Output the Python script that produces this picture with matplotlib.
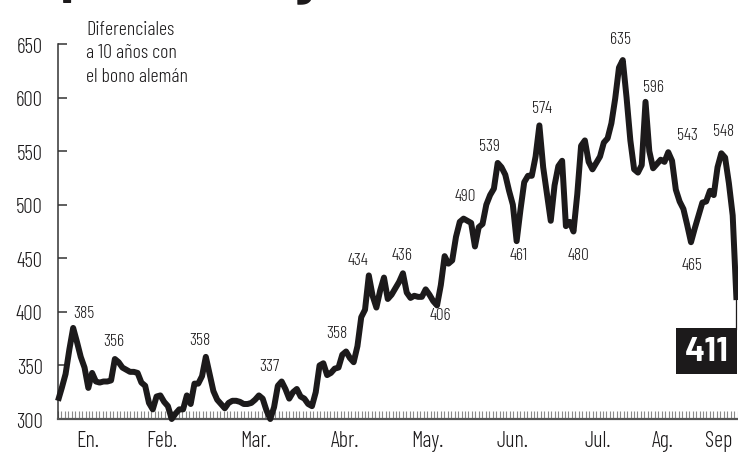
import matplotlib
matplotlib.use("Agg")
import matplotlib.pyplot as plt
from matplotlib import font_manager
import numpy as np

# prima de riesgo, puntos básicos (un valor por sesión)
valores = [
    317, 329, 342, 365, 385, 372, 358, 348, 329, 343,
    335, 334, 335, 335, 336, 356, 353, 348, 346, 344,
    344, 343, 334, 331, 315, 309, 321, 322, 316, 312,
    300, 305, 309, 309, 322, 314, 333, 333, 340, 358,
    342, 326, 318, 314, 310, 315, 317, 317, 316, 314,
    314, 315, 318, 322, 319, 308, 300, 311, 331, 335,
    328, 319, 325, 328, 321, 319, 314, 312, 325, 350,
    352, 341, 343, 347, 348, 360, 363, 357, 353, 368,
    395, 402, 434, 415, 404, 420, 432, 412, 416, 422,
    428, 436, 418, 413, 415, 414, 414, 421, 416, 410,
    406, 425, 452, 445, 448, 470, 484, 487, 485, 483,
    461, 479, 482, 500, 509, 515, 539, 535, 528, 513,
    500, 466, 495, 521, 527, 527, 545, 574, 535, 510,
    485, 518, 536, 541, 480, 484, 475, 510, 555, 560,
    540, 533, 539, 545, 558, 562, 576, 599, 628, 635,
    600, 560, 533, 530, 537, 596, 550, 534, 538, 542,
    540, 549, 541, 514, 503, 496, 481, 465, 478, 490,
    502, 503, 513, 509, 535, 548, 544, 520, 490, 411,
]

meses = ["En.", "Feb.", "Mar.", "Abr.", "May.", "Jun.", "Jul.", "Ag.", "Sep"]
pos_meses = [7.9, 27.4, 52.2, 75.7, 97.4, 119.8, 142.5, 159.6, 174.3]

# etiquetas de máximos y mínimos: texto, sesión, nivel donde va el texto
etiq_txt = ["385", "356", "358", "337", "358", "434", "436", "406", "490",
            "539", "461", "574", "480", "635", "596", "543", "548", "465"]
etiq_x = [6.9, 14.8, 37.5, 55.7, 73.6, 79.2, 90.8, 100.8, 107.4,
          113.7, 121.6, 127.7, 137.2, 148.5, 157.0, 166.0, 175.5, 167.3]
etiq_y = [398.9, 372.8, 373.7, 349.5, 380.3, 448.4, 453.1, 397.1, 508.1,
          554.8, 453.1, 590.3, 453.1, 654.7, 609.9, 565.1, 568.8, 443.7]

available = {f.name for f in font_manager.fontManager.ttflist}
fuente = next((f for f in ["Barlow Condensed", "Roboto Condensed", "PT Sans Narrow",
                            "Archivo Narrow", "Liberation Sans Narrow"] if f in available),
              "DejaVu Sans")
fuente_caja = next((f for f in ["Barlow", "Roboto"] if f in available), "DejaVu Sans")
plt.rcParams["font.family"] = [fuente, "DejaVu Sans"]

tinta = "#1c1a1b"
gris = "#8a8a8a"

fig = plt.figure(figsize=(7.38, 4.56), dpi=100)
ax = fig.add_axes([58 / 738, 36 / 456, 680 / 738, 375 / 456])

x = np.arange(len(valores))
ax.plot(x, valores, color=tinta, linewidth=4.3, solid_joinstyle="round",
        solid_capstyle="butt", clip_on=False, zorder=3)

ax.set_xlim(0, 179.4)
ax.set_ylim(300, 650)

# ejes
for lado in ["top", "right"]:
    ax.spines[lado].set_visible(False)
ax.spines["left"].set_color("#333333")
ax.spines["left"].set_linewidth(1.1)
ax.spines["bottom"].set_color("#555555")
ax.spines["bottom"].set_linewidth(1.6)

ax.set_yticks(range(300, 651, 50))
ax.tick_params(axis="y", direction="in", length=6.5, width=1.1, color="#333333",
               pad=11, labelsize=15, labelcolor=tinta)
for t in ax.get_yticklabels():
    t.set_fontweight(300)

ax.set_xticks(pos_meses)
ax.set_xticklabels(meses)
ax.set_xticks(np.arange(0, 179.4, 0.91), minor=True)
ax.tick_params(axis="x", which="major", length=0, pad=8, labelsize=16, labelcolor=tinta)
ax.tick_params(axis="x", which="minor", direction="in", length=6, width=0.8, color=gris)
for t in ax.get_xticklabels():
    t.set_fontweight(300)

# etiquetas de valores
for txt, ex, ey in zip(etiq_txt, etiq_x, etiq_y):
    ax.text(ex, ey, txt, ha="center", va="center", fontsize=12.5,
            fontweight=300, color=tinta, clip_on=False)

# último valor: filete vertical y recuadro negro
ax.annotate("", xy=(x[-1], valores[-1]), xytext=(0, -30),
            textcoords="offset pixels",
            arrowprops=dict(arrowstyle="-", color=tinta, lw=0.9,
                            shrinkA=0, shrinkB=0),
            annotation_clip=False, zorder=2)
ax.annotate(str(valores[-1]), xy=(x[-1], valores[-1]), xytext=(-8, -36),
            textcoords="offset pixels", ha="right", va="top", fontsize=24,
            fontweight="bold", color="white", family=fuente_caja,
            bbox=dict(boxstyle="square,pad=0.25", fc=tinta, ec="none"),
            annotation_clip=False, zorder=4)

ax.text(28 / 680, 1.065, "Diferenciales\na 10 años con\nel bono alemán",
        transform=ax.transAxes, ha="left", va="top", fontsize=14.5,
        fontweight=300, color=tinta, linespacing=1.4)

# titulo recortado por el borde superior
fig.text(10 / 738, 1.012, "La prima de riesgo", ha="left", va="baseline",
         fontsize=34, fontweight="heavy", color=tinta)

fig.savefig("out.png", dpi=100)
